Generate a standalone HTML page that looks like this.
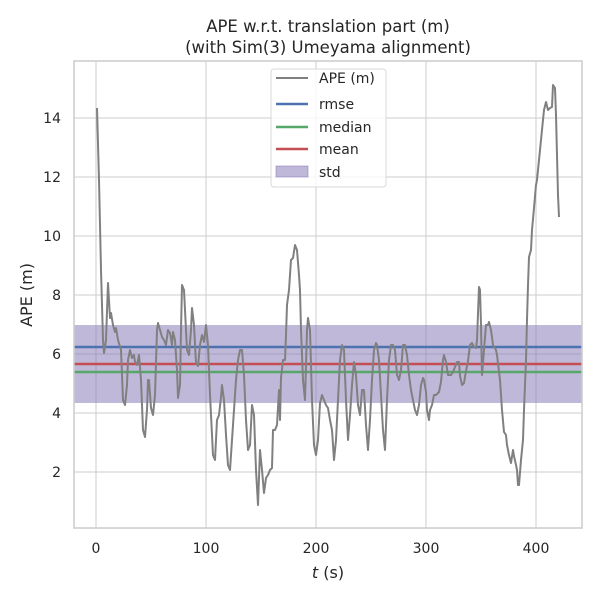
<!DOCTYPE html>
<html><head><style>body{margin:0;background:#fff}</style></head><body>
<svg width="600" height="600" xmlns="http://www.w3.org/2000/svg" font-family="DejaVu Sans, Liberation Sans, sans-serif" fill="#262626">
<rect width="600" height="600" fill="#fff"/>
<g stroke="#cccccc" stroke-width="1">
<line x1="96" y1="61" x2="96" y2="528"/><line x1="206" y1="61" x2="206" y2="528"/><line x1="316" y1="61" x2="316" y2="528"/><line x1="426" y1="61" x2="426" y2="528"/><line x1="536" y1="61" x2="536" y2="528"/>
<line x1="74" y1="472" x2="582" y2="472"/><line x1="74" y1="413" x2="582" y2="413"/><line x1="74" y1="354" x2="582" y2="354"/><line x1="74" y1="295" x2="582" y2="295"/><line x1="74" y1="236" x2="582" y2="236"/><line x1="74" y1="177" x2="582" y2="177"/><line x1="74" y1="118" x2="582" y2="118"/>
</g>
<rect x="74" y="325" width="508" height="78" fill="#8172b3" fill-opacity="0.5"/>
<line x1="74" y1="347" x2="582" y2="347" stroke="#4c72b0" stroke-width="2.5"/>
<line x1="74" y1="364" x2="582" y2="364" stroke="#c44e52" stroke-width="2.5"/>
<line x1="74" y1="372" x2="582" y2="372" stroke="#55a868" stroke-width="2.5"/>
<polyline fill="none" stroke="#808080" stroke-width="2" stroke-linejoin="round" points="97,108 99,180 101,270 103,340 104,353 106,340 108,283 110,318 111,313 113,325 115,332 116,328 118,340 121,350 123,400 125,405 127,385 128,360 130,350 132,358 134,355 135,362 137,365 139,355 141,380 143,430 145,437 147,410 148,380 149,380 151,408 153,415 155,395 157,330 158,323 160,330 162,337 164,340 166,345 168,330 170,333 172,345 173,332 175,340 177,370 178,398 180,385 181,330 182,285 184,290 186,330 187,350 189,355 191,330 192,308 194,325 196,363 198,366 200,345 202,335 204,342 206,325 208,345 210,395 213,455 215,460 217,420 219,415 221,397 222,385 224,400 226,435 228,465 230,470 232,440 234,410 236,380 238,360 240,350 242,350 244,375 246,420 248,450 250,445 252,405 254,415 256,470 258,505 260,450 262,470 264,493 266,478 268,475 270,470 272,468 273,430 275,430 277,425 279,390 280,420 281,378 283,360 285,360 286,335 287,305 289,290 291,260 293,258 295,245 297,250 299,275 300,290 301,330 303,380 305,400 307,330 308,318 310,330 312,400 314,445 316,455 318,440 320,403 322,395 324,400 326,405 328,408 330,420 332,430 334,460 336,440 338,400 340,360 342,345 344,350 346,400 348,440 350,415 352,385 354,362 356,375 358,405 360,415 362,390 364,390 366,425 368,450 370,420 372,380 374,350 376,343 377,345 379,360 381,395 383,430 385,450 387,400 389,360 391,345 393,345 395,350 397,375 399,380 401,370 403,345 405,345 407,355 409,375 411,390 413,400 415,410 417,415 419,405 421,385 423,378 424,380 426,392 427,410 429,420 430,410 432,405 434,395 436,395 437,394 439,392 441,382 443,360 444,355 446,362 448,375 450,375 451,375 453,372 455,367 457,362 459,362 460,376 462,385 464,383 466,371 468,361 470,345 472,343 474,347 476,348 477,340 479,287 480,290 481,325 482,375 484,350 486,325 488,325 489,322 491,330 493,345 496,350 497,355 500,380 502,410 504,432 506,435 507,445 509,455 511,463 513,450 514,456 516,465 517,470 518,485 519,485 521,460 523,440 524,410 526,360 527,320 528,285 529,257 531,250 532,230 534,208 536,185 537,180 538,170 540,150 542,130 544,110 546,102 548,110 550,108 552,107 553,85 555,88 556,115 557,155 558,195 559,217"/>
<rect x="74" y="61" width="508" height="467" fill="none" stroke="#cccccc" stroke-width="1.5"/>
<g font-size="14" text-anchor="end">
<text x="61" y="477">2</text><text x="61" y="418">4</text><text x="61" y="359">6</text><text x="61" y="300">8</text><text x="61" y="241">10</text><text x="61" y="182">12</text><text x="61" y="123">14</text>
</g>
<g font-size="14" text-anchor="middle">
<text x="96" y="553">0</text><text x="206" y="553">100</text><text x="316" y="553">200</text><text x="426" y="553">300</text><text x="536" y="553">400</text>
</g>
<text x="328" y="578" font-size="16" text-anchor="middle"><tspan font-style="italic">t</tspan> (s)</text>
<text transform="translate(32,295) rotate(-90)" font-size="16" text-anchor="middle">APE (m)</text>
<text x="328" y="32" font-size="16.5" text-anchor="middle">APE w.r.t. translation part (m)</text>
<text x="328" y="53" font-size="16.5" text-anchor="middle">(with Sim(3) Umeyama alignment)</text>
<rect x="271" y="69" width="115" height="118" rx="3" fill="#fff" fill-opacity="0.8" stroke="#d8d8d8"/>
<line x1="276" y1="78" x2="308" y2="78" stroke="#808080" stroke-width="2"/>
<line x1="276" y1="104" x2="308" y2="104" stroke="#4c72b0" stroke-width="2.5"/>
<line x1="276" y1="127" x2="308" y2="127" stroke="#55a868" stroke-width="2.5"/>
<line x1="276" y1="149" x2="308" y2="149" stroke="#c44e52" stroke-width="2.5"/>
<rect x="276" y="166" width="32" height="11" fill="#8172b3" fill-opacity="0.5" stroke="#8172b3" stroke-opacity="0.5"/>
<g font-size="14">
<text x="319" y="83">APE (m)</text><text x="319" y="109">rmse</text><text x="319" y="132">median</text><text x="319" y="154">mean</text><text x="319" y="177">std</text>
</g>
</svg>
</body></html>
